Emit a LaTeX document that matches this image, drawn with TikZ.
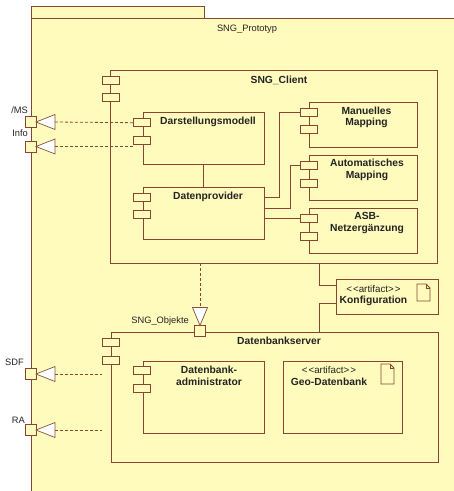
\documentclass[tikz,border=0pt]{standalone}
\usepackage{fontspec}
\setmainfont{Liberation Sans}
\usetikzlibrary{calc}
\definecolor{umlfill}{RGB}{255,251,189}
\definecolor{umlline}{RGB}{135,70,50}
\definecolor{txt}{RGB}{35,35,35}
\newcommand{\stereo}{{<}\kern1pt{<}artifact{>}\kern1pt{>}}
\tikzset{
  box/.style={draw=umlline, fill=umlfill, line width=0.9pt, inner sep=0pt, outer sep=0pt},
  comp/.style={box, anchor=north west},
  cport/.style={box, minimum width=17pt, minimum height=8pt},
  iport/.style={box, minimum width=11pt, minimum height=11pt},
  bold/.style={font=\fontsize{10.3}{11.5}\selectfont\bfseries, text=txt, inner sep=0pt, align=center},
  reg/.style={font=\fontsize{9.3}{11}\selectfont, text=txt, inner sep=0pt},
  stereotype/.style={font=\fontsize{9.8}{11}\selectfont, text=txt, inner sep=0pt},
  dep/.style={draw=umlline, line width=0.8pt, dash pattern=on 3pt off 2pt},
  assoc/.style={draw=umlline, line width=0.9pt},
  tri/.style={draw=umlline!80!gray, fill=white, line width=0.7pt, line join=miter},
  docicon/.style={draw=umlline, fill=umlfill, line width=0.8pt, line join=miter}
}
\begin{document}
\begin{tikzpicture}[x=1pt,y=-1pt]
\clip (0,0) rectangle (454,491);
\fill[white] (0,0) rectangle (454,491);

% package
\draw[box] (31,6) rectangle (204,18);
\draw[box] (31,18) rectangle (480,520);
\node[reg] (pkglabel) at (247,29) {SNG\_Prototyp};

% SNG_Client
\node[comp, minimum width=327pt, minimum height=193pt] (client) at (110,70) {};
\node[cport] (clp1) at (110.5,80) {};
\node[cport] (clp2) at (110.5,97.5) {};
\node[bold] (clientlabel) at (279,80) {SNG\_Client};

% Darstellungsmodell
\node[comp, minimum width=121pt, minimum height=52pt] (darst) at (143,112) {};
\node[cport] (darp1) at (142,122.7) {};
\node[cport] (darp2) at (142,140.7) {};
\node[bold] (darlabel) at (208,122) {Darstellungsmodell};

% Datenprovider
\node[comp, minimum width=121pt, minimum height=52pt] (dprov) at (143,187) {};
\node[cport] (dpp1) at (142,197.3) {};
\node[cport] (dpp2) at (142,214.7) {};
\node[bold] (dplabel) at (208,196.5) {Datenprovider};

% Manuelles Mapping
\node[comp, minimum width=108pt, minimum height=45pt] (manu) at (309,102) {};
\node[cport] (manp1) at (309,112.2) {};
\node[cport] (manp2) at (309,129.7) {};
\node[bold] (manlabel) at (366.5,117.2) {Manuelles\\Mapping};

% Automatisches Mapping
\node[comp, minimum width=108pt, minimum height=45pt] (auto) at (309,155) {};
\node[cport] (autp1) at (309,165.5) {};
\node[cport] (autp2) at (309,183) {};
\node[bold] (autlabel) at (367,170) {Automatisches\\Mapping};

% ASB-Netzergaenzung
\node[comp, minimum width=108pt, minimum height=45pt] (asb) at (309,208) {};
\node[cport] (asbp1) at (309,218.3) {};
\node[cport] (asbp2) at (309,236) {};
\node[bold] (asblabel) at (367,223) {ASB-\\Netzergänzung};

% internal connectors of the client
\draw[assoc] (darst.south) -- (dprov.north);
\draw[assoc] ($(dprov.north east)+(0,10.3)$) -- ++(15.3,0) |- (manp1.west);
\draw[assoc] ($(dprov.north east)+(0,21.3)$) -- ++(26,0) |- (autp1.west);
\draw[assoc] (dprov.east |- asbp1.west) -- (asbp1.west);

% Konfiguration artifact
\node[comp, minimum width=102pt, minimum height=35pt] (konf) at (336,279) {};
\node[stereotype] (konfster) at (373.5,289) {\stereo};
\node[bold] (konflabel) at (373.5,300.5) {Konfiguration};
\draw[docicon] ($(konf.north west)+(81,5)$) -- ++(9,0) -- ++(4,4) -- ++(0,13) -- ++(-13,0) -- cycle;
\draw[docicon, fill=none] ($(konf.north west)+(90,5)$) -- ++(0,4) -- ++(4,0);

% Datenbankserver
\node[comp, minimum width=327pt, minimum height=130pt] (dbs) at (111,332) {};
\node[cport] (dbsp1) at (110.5,342.5) {};
\node[cport] (dbsp2) at (110.5,360) {};
\node[bold] (dbslabel) at (279,341) {Datenbankserver};

% SNG_Objekte port
\node[iport] (objp) at (200,331) {};
\node[reg, anchor=east] (objlabel) at (189,321) {SNG\_Objekte};
\draw[tri] (objp.north) -- ++(-7.5,-18) -- ++(15,0) -- cycle;
\coordinate (objbase) at ($(objp.north)+(0,-18)$);
\draw[dep] (client.south -| objbase) -- (objbase);

% connections to Konfiguration
\coordinate (kx) at (319,0);
\coordinate (ka) at ($(konf.north west)+(0,6)$);
\coordinate (kb) at ($(konf.north west)+(0,24.3)$);
\draw[assoc] (client.south -| kx) |- (ka);
\draw[assoc] (dbs.north -| kx) |- (kb);

% Datenbank-administrator
\node[comp, minimum width=121pt, minimum height=72pt] (dbadm) at (143,361) {};
\node[cport] (admp1) at (142,370) {};
\node[cport] (admp2) at (142,388) {};
\node[bold] (admlabel) at (209,376) {Datenbank-\\administrator};

% Geo-Datenbank artifact
\node[comp, minimum width=119pt, minimum height=72pt] (geo) at (283,361) {};
\node[stereotype] (geoster) at (329,370) {\stereo};
\node[bold] (geolabel) at (329,382) {Geo-Datenbank};
\draw[docicon] ($(geo.north west)+(98,3)$) -- ++(9,0) -- ++(4,4) -- ++(0,16) -- ++(-13,0) -- cycle;
\draw[docicon, fill=none] ($(geo.north west)+(107,3)$) -- ++(0,4) -- ++(4,0);

% external interface ports on the package boundary
\node[iport] (wms) at (30.5,122) {};
\node[reg, anchor=east] (wmslabel) at (28,110) {/MS};
\node[iport] (info) at (30.5,146.5) {};
\node[reg, anchor=east] (infolabel) at (28,133) {Info};
\node[iport] (sdf) at (30.5,374) {};
\node[reg, anchor=east] (sdflabel) at (24,362) {SDF};
\node[iport] (ra) at (30.5,430) {};
\node[reg, anchor=east] (ralabel) at (25,420) {RA};

\foreach \p in {wms,info,sdf,ra}{
  \draw[tri] (\p.east) -- ++(19,-7.5) -- ++(0,15) -- cycle;
  \coordinate (\p-base) at ($(\p.east)+(19,0)$);
}
\coordinate (infoend) at ($(darp2.west)+(0,7)$);
\coordinate (sdfend) at (dbsp2.west |- sdf);
\coordinate (raend) at (dbsp2.west |- ra);
\draw[dep] (wms-base) -- (darp1.west);
\draw[dep] (info-base) -- (info-base -| infoend);
\draw[dep] (sdf-base) -- (sdfend);
\draw[dep] (ra-base) -- (raend);
\end{tikzpicture}
\end{document}
